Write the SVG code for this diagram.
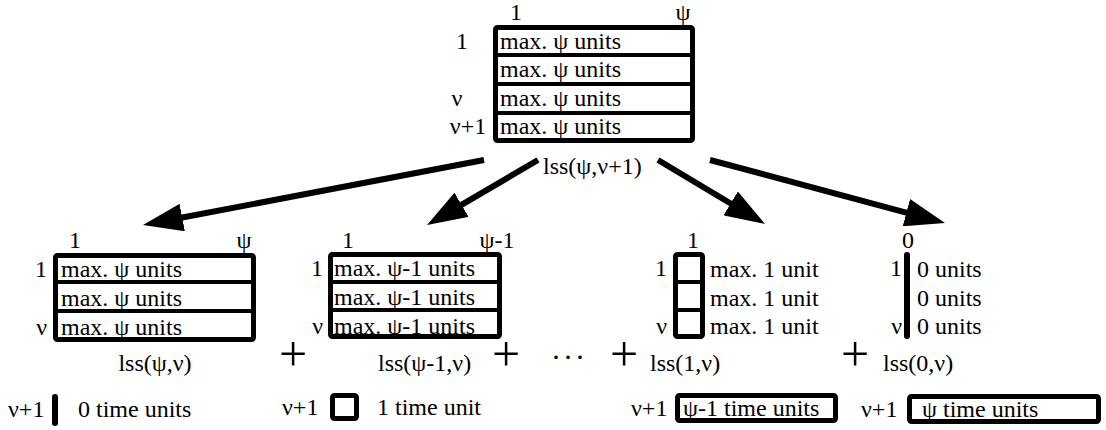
<svg xmlns="http://www.w3.org/2000/svg" width="1106" height="430" viewBox="0 0 1106 430">
<style>
text{font-family:"Liberation Serif","Times New Roman",serif;font-size:24px;fill:#000}
.r{text-anchor:end}
.m{text-anchor:middle}
.plus{font-size:50px;text-anchor:middle}
.frame{fill:#fff;stroke:#000;stroke-width:5;stroke-linejoin:round}
.sep{stroke:#000;stroke-width:4}
.bar{stroke:#000;stroke-width:6;stroke-linecap:round}
.arrow{stroke:#000;stroke-width:6;fill:none;marker-end:url(#ah)}
</style>
<defs>
<marker id="ah" markerUnits="userSpaceOnUse" markerWidth="40" markerHeight="28" refX="20" refY="14" orient="auto">
<path d="M0,0 L40,14 L0,28 z" fill="#000"/>
</marker>
</defs>
<rect width="1106" height="430" fill="#fff"/>

<g id="top">
<rect class="frame" x="495.5" y="27.5" width="197" height="113" rx="2"/>
<line class="sep" x1="495" y1="55" x2="693" y2="55"/>
<line class="sep" x1="495" y1="84" x2="693" y2="84"/>
<line class="sep" x1="495" y1="113" x2="693" y2="113"/>
<text class="m" x="516" y="20">1</text>
<text class="m" x="683" y="20">ψ</text>
<text class="m" x="462" y="49">1</text>
<text class="m" x="457" y="106">ν</text>
<text class="m" x="468" y="134">ν+1</text>
<text x="500" y="49">max. ψ units</text>
<text x="500" y="77">max. ψ units</text>
<text x="500" y="106">max. ψ units</text>
<text x="500" y="134">max. ψ units</text>
<text x="543" y="174">lss(ψ,ν+1)</text>
</g>

<g id="connectors">
<line class="arrow" x1="484" y1="160" x2="162.6" y2="221.3"/>
<line class="arrow" x1="538" y1="160" x2="444.3" y2="214.9"/>
<line class="arrow" x1="658" y1="160" x2="747.8" y2="213.7"/>
<line class="arrow" x1="710" y1="160" x2="925.7" y2="217.8"/>
</g>

<g id="lss-psi-nu">
<rect class="frame" x="55.5" y="255.5" width="198" height="84" rx="2"/>
<line class="sep" x1="55" y1="282" x2="254" y2="282"/>
<line class="sep" x1="55" y1="311" x2="254" y2="311"/>
<text class="m" x="75" y="248">1</text>
<text class="m" x="244" y="248">ψ</text>
<text class="r" x="47" y="277">1</text>
<text class="r" x="47" y="335">ν</text>
<text x="61" y="277">max. ψ units</text>
<text x="61" y="306">max. ψ units</text>
<text x="61" y="335">max. ψ units</text>
<text class="m" x="155" y="371">lss(ψ,ν)</text>
</g>

<g id="lss-psi1-nu">
<rect class="frame" x="330.5" y="254.5" width="169" height="82" rx="2"/>
<line class="sep" x1="330" y1="282" x2="500" y2="282"/>
<line class="sep" x1="330" y1="310" x2="500" y2="310"/>
<text class="m" x="348" y="248">1</text>
<text class="m" x="497" y="248">ψ-1</text>
<text class="r" x="323" y="276">1</text>
<text class="r" x="323" y="334">ν</text>
<text x="334" y="276">max. ψ-1 units</text>
<text x="334" y="305">max. ψ-1 units</text>
<text x="334" y="334">max. ψ-1 units</text>
<text x="378" y="371">lss(ψ-1,ν)</text>
</g>

<g id="lss-1-nu">
<rect class="frame" x="675.5" y="254.5" width="27" height="82" rx="2"/>
<line class="sep" x1="675" y1="282" x2="703" y2="282"/>
<line class="sep" x1="675" y1="310" x2="703" y2="310"/>
<text class="m" x="693" y="248">1</text>
<text class="r" x="667" y="276">1</text>
<text class="r" x="667" y="334">ν</text>
<text x="710" y="277">max. 1 unit</text>
<text x="710" y="306">max. 1 unit</text>
<text x="710" y="334">max. 1 unit</text>
<text x="650" y="371">lss(1,ν)</text>
</g>

<g id="lss-0-nu">
<line class="bar" x1="907" y1="255" x2="907" y2="336"/>
<text class="m" x="908" y="248">0</text>
<text class="r" x="902" y="276">1</text>
<text class="r" x="902" y="334">ν</text>
<text x="917" y="277">0 units</text>
<text x="917" y="306">0 units</text>
<text x="917" y="334">0 units</text>
<text x="883" y="371">lss(0,ν)</text>
</g>

<g id="operators">
<text class="plus" x="293" y="371">+</text>
<text class="plus" x="506" y="371">+</text>
<text x="551" y="367" style="font-size:30px;letter-spacing:2px">···</text>
<text class="plus" x="624" y="371">+</text>
<text class="plus" x="855" y="371">+</text>
</g>

<g id="row-0">
<text x="8" y="417">ν+1</text>
<line class="bar" x1="55" y1="397" x2="55" y2="423"/>
<text x="78" y="417">0 time units</text>
</g>

<g id="row-1">
<text x="282" y="415">ν+1</text>
<rect class="frame" x="332.5" y="395.5" width="24" height="23" rx="2"/>
<text x="377" y="415">1 time unit</text>
</g>

<g id="row-psi1">
<text x="631" y="416">ν+1</text>
<rect class="frame" x="677.5" y="395.5" width="158" height="25" rx="2"/>
<text x="683" y="416">ψ-1 time units</text>
</g>

<g id="row-psi">
<text x="861" y="417">ν+1</text>
<rect class="frame" x="909.5" y="396.5" width="189" height="25" rx="2"/>
<text x="922" y="417">ψ time units</text>
</g>
</svg>
